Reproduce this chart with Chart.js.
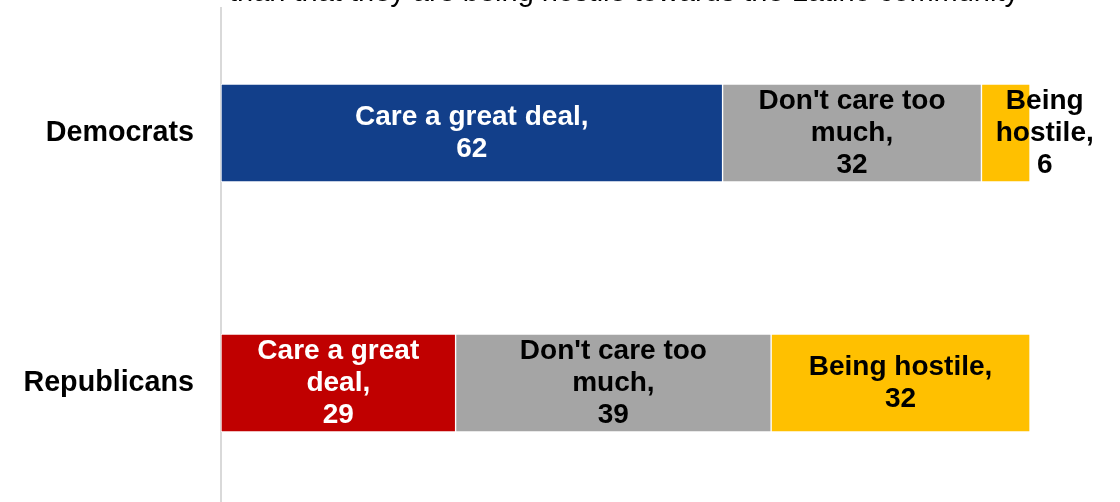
<!DOCTYPE html>
<html>
<head>
<meta charset="utf-8">
<script src="https://cdn.jsdelivr.net/npm/chart.js@4"></script>
<style>
  html, body { margin: 0; padding: 0; background: #fff; overflow: hidden; }
  #wrap { width: 1120px; height: 508px; position: relative; }
</style>
</head>
<body>
<div id="wrap"><canvas id="chart"></canvas></div>
<script>
// Data
const categories = ['Democrats', 'Republicans'];
const seriesNames = ['Care a great deal', "Don't care too much", 'Being hostile'];
const careGreatDeal = [62, 29];
const dontCareMuch = [32, 39];
const beingHostile = [6, 32];

// How each label wraps (per series, per category)
const labelWraps = [
    [['Care a great deal,'], ['Care a great', 'deal,']],
    [["Don't care too", 'much,'], ["Don't care too", 'much,']],
    [['Being', 'hostile,'], ['Being hostile,']]
];

const titleTail = 'than that they are being hostile towards the Latino community';
const FONT = "'Liberation Sans', Arial, sans-serif";

// Title line, cut off at the top of the picture
const titlePlugin = {
    id: 'titleTail',
    beforeDraw(chart) {
        const ctx = chart.ctx;
        ctx.save();
        ctx.font = '29px ' + FONT;
        ctx.fillStyle = '#000';
        ctx.textAlign = 'center';
        ctx.textBaseline = 'alphabetic';
        ctx.fillText(titleTail, 624, 1);
        ctx.restore();
    }
};

// Labels inside the segments
const barLabels = {
    id: 'barLabels',
    afterDatasetsDraw(chart) {
        const ctx = chart.ctx;
        ctx.save();
        ctx.font = 'bold 28px ' + FONT;
        ctx.textAlign = 'center';
        ctx.textBaseline = 'middle';
        chart.data.datasets.forEach((ds, i) => {
            const meta = chart.getDatasetMeta(i);
            meta.data.forEach((bar, j) => {
                const lines = labelWraps[i][j].concat([String(ds.data[j])]);
                const shift = (ds.labelShift || [])[j] || 0;
                const cx = (bar.x + bar.base) / 2 + shift;
                const lh = 32;
                const y0 = bar.y - (lines.length - 1) * lh / 2;
                ctx.fillStyle = ds.labelColor;
                lines.forEach((t, k) => ctx.fillText(t, cx, y0 + k * lh));
            });
        });
        ctx.restore();
    }
};

const config = {
    type: 'bar',
    data: {
        labels: categories,
        datasets: [
            {
                label: seriesNames[0],
                data: careGreatDeal,
                backgroundColor: ['#123F8A', '#C00000'],
                labelColor: '#fff'
            },
            {
                label: seriesNames[1],
                data: dontCareMuch,
                backgroundColor: '#A5A5A5',
                labelColor: '#000'
            },
            {
                label: seriesNames[2],
                data: beingHostile,
                backgroundColor: '#FFC000',
                labelColor: '#000',
                labelShift: [39, 0]
            }
        ]
    },
    options: {
        indexAxis: 'y',
        responsive: true,
        maintainAspectRatio: false,
        animation: false,
        layout: { padding: { top: 8, right: 90, left: 0, bottom: 0 } },
        datasets: {
            bar: {
                barThickness: 98,
                borderColor: '#fff',
                borderWidth: 1,
                borderSkipped: false
            }
        },
        plugins: {
            legend: { display: false },
            tooltip: { enabled: false }
        },
        scales: {
            x: {
                stacked: true,
                display: false,
                min: 0,
                max: 100
            },
            y: {
                stacked: true,
                grid: { display: false, drawTicks: false },
                border: { display: true, color: '#D9D9D9', width: 2 },
                ticks: {
                    color: '#000',
                    padding: 27,
                    font: { family: FONT, size: 28.7, weight: 'bold' }
                },
                afterFit(scale) {
                    scale.width = 221;
                    scale.paddingTop = 0;
                    scale.paddingBottom = 0;
                }
            }
        }
    },
    plugins: [titlePlugin, barLabels]
};

document.addEventListener('DOMContentLoaded', () => {
    const ctx = document.getElementById('chart').getContext('2d');
    new Chart(ctx, config);
});
</script>
</body>
</html>
